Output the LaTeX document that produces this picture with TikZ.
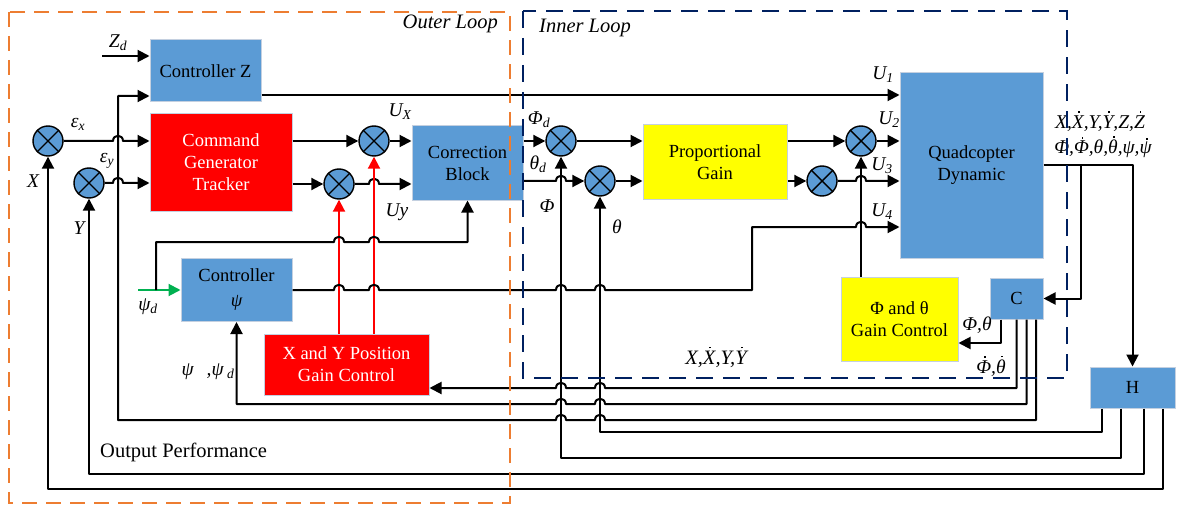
\documentclass[tikz,border=0pt]{standalone}
\usepackage{fontspec}
\setmainfont{Liberation Serif}
\usetikzlibrary{arrows.meta}
\definecolor{qblue}{RGB}{91,155,213}
\definecolor{qred}{RGB}{255,0,0}
\definecolor{qyellow}{RGB}{255,255,0}
\definecolor{boxedge}{RGB}{196,208,224}
\definecolor{qorange}{RGB}{237,125,49}
\definecolor{qnavy}{RGB}{0,32,96}
\definecolor{qgreen}{RGB}{0,176,80}
\newcommand\fs{\fontsize{18.5}{22}\selectfont}
\newcommand\fl{\fontsize{19.5}{23}\selectfont}
\newcommand\fb{\fontsize{20.5}{24}\selectfont}
\newcommand\hopR[2]{-- (#1-5,#2) .. controls (#1-5,#2-7) and (#1+5,#2-7) .. (#1+5,#2)}
\newcommand\hopL[2]{-- (#1+5,#2) .. controls (#1+5,#2-7) and (#1-5,#2-7) .. (#1-5,#2)}
\newcommand\dd[1]{\leavevmode\setbox0\hbox{#1}%
  \rlap{\hbox to\wd0{\hss\hskip2pt\raisebox{\dimexpr\ht0+2.5pt\relax}{\rule{1.8pt}{1.8pt}}\hss}}\box0}
\newcommand\summ[2]{\node[sumc] (#1) at (#2) {};
  \draw[line width=1.4pt] (#1.north west) -- (#1.south east) (#1.north east) -- (#1.south west);}
\tikzset{
  box/.style={draw=boxedge, line width=1pt, align=center, inner sep=2pt, font=\fs},
  bluebox/.style={box, fill=qblue},
  redbox/.style={box, fill=qred, text=white},
  yelbox/.style={box, fill=qyellow},
  sumc/.style={circle, draw=black, line width=1.4pt, fill=qblue, minimum size=30pt, inner sep=0pt},
  lab/.style={font=\fl\itshape, inner sep=0pt},
  wire/.style={line width=2pt, line join=round, -{Triangle[length=12pt,width=12pt]}},
  frame/.style={line width=2.2pt}
}
\begin{document}
\begin{tikzpicture}[x=1pt,y=-1pt]
\useasboundingbox (0,0) rectangle (1177,505);

% blocks
\node[bluebox, minimum width=111pt, minimum height=62pt] (cz) at (205.5,71) {Controller Z};
\node[redbox, minimum width=142pt, minimum height=97pt] (cg) at (221,162.5) {Command\\Generator\\Tracker};
\node[bluebox, minimum width=111pt, minimum height=74pt] (cb) at (467.5,163) {Correction\\Block};
\node[yelbox, minimum width=144pt, minimum height=74pt] (pg) at (715,162) {Proportional\\Gain};
\node[bluebox, minimum width=143pt, minimum height=185pt] (qd) at (971.5,165.5) {Quadcopter\\Dynamic};
\node[bluebox, minimum width=111pt, minimum height=63pt] (cpsi) at (236.5,290) {Controller\\[3pt]{\itshape ψ}};
\node[redbox, minimum width=165pt, minimum height=61pt] (xy) at (346.5,364.5) {X and Y Position\\Gain Control};
\node[yelbox, minimum width=117pt, minimum height=84pt] (pt) at (899.5,319) {Φ and θ\\Gain Control};
\node[bluebox, minimum width=53pt, minimum height=41pt] (C) at (1016.5,298.5) {C};
\node[bluebox, minimum width=85pt, minimum height=41pt] (H) at (1132.5,387.5) {H};

% summing junctions
\summ{sx}{48,141}
\summ{sy}{89,183}
\summ{sux}{374,141}
\summ{suy}{339,184}
\summ{sphi}{561,141}
\summ{sth}{600,181}
\summ{su2}{861,141}
\summ{su3}{822,181}

% inputs
\coordinate (zd) at (102,56);
\draw[wire] (zd) -- (zd -| cz.west);
\coordinate (psid) at (138,290);
\draw[wire, qgreen] (psid) -- (psid -| cpsi.west);

% outer loop forward path
\draw[wire] ([yshift=-24pt]cz.east) -- (qd.west |- 0,95);
\draw[wire] (sx.east) \hopR{118}{141} -- (cg.west |- sx.east);
\draw[wire] (sy.east) \hopR{118}{183} -- (cg.west |- sy.east);
\draw[wire] (cg.east |- sux.west) -- (sux.west);
\draw[wire] (cg.east |- suy.west) -- (suy.west);
\draw[wire] (sux.east) -- (cb.west |- sux.east);
\draw[wire] (suy.east) \hopR{374}{184} -- (cb.west |- suy.east);
\draw[wire, qred] (xy.north -| suy) -- (suy.south);
\draw[wire, qred] (xy.north -| sux) -- (sux.south);
\draw[wire] (156,290) -- (156,242) \hopR{339}{242} \hopR{374}{242} -- (cb.south |- 0,242) -- (cb.south);
\draw[wire] (cpsi.east) \hopR{339}{290} \hopR{374}{290} \hopR{561}{290} \hopR{600}{290}
  -- (752,290) -- (752,227) \hopR{861}{227} -- (qd.west |- 0,227);

% inner loop forward path
\draw[wire] (cb.east |- sphi.west) -- (sphi.west);
\draw[wire] (cb.east |- sth.west) \hopR{561}{181} -- (sth.west);
\draw[wire] (sphi.east) -- (pg.west |- sphi.east);
\draw[wire] (sth.east) -- (pg.west |- sth.east);
\draw[wire] (pg.east |- su2.west) -- (su2.west);
\draw[wire] (pg.east |- su3.west) -- (su3.west);
\draw[wire] (su2.east) -- (qd.west |- su2.east);
\draw[wire] (su3.east) \hopR{861}{181} -- (qd.west |- su3.east);
\draw[wire] (pt.north -| su2) -- (su2.south);

% plant outputs
\draw[wire] (qd.east) -| (H.north);
\draw[wire] (1081,165.5) |- (C.east);
\draw[wire] ([xshift=-15.5pt]C.south) |- (pt.east |- 0,343);

% feedback from C
\draw[wire] (C.south) -- (1016.5,388) \hopL{600}{388} \hopL{561}{388} -- (xy.east |- 0,388);
\draw[wire] ([xshift=10pt]C.south) -- (1026.5,404) \hopL{600}{404} \hopL{561}{404} -- (cpsi.south |- 0,404) -- (cpsi.south);
\draw[wire] ([xshift=19.5pt]C.south) -- (1036,420) \hopL{600}{420} \hopL{561}{420} -- (118,420) -- (118,96) -- (cz.west |- 0,96);

% feedback from H
\draw[wire] ([xshift=-30.5pt]H.south) -- (1102,432) -- (600,432) -- (sth.south);
\draw[wire] ([xshift=-11.5pt]H.south) -- (1121,458) -- (561,458) -- (sphi.south);
\draw[wire] ([xshift=11.5pt]H.south) -- (1144,474) -- (89,474) -- (sy.south);
\draw[wire] ([xshift=30.5pt]H.south) -- (1163,489) -- (48,489) -- (sx.south);

% labels
\node[lab] (lzd) at (118,43) {Z\textsubscript{d}};
\node[lab] (lex) at (78,124) {ε\textsubscript{x}};
\node[lab] (ley) at (107,161) {ε\textsubscript{y}};
\node[lab] (lx) at (33,181) {X};
\node[lab] (ly) at (79,228) {Y};
\node[lab] (lux) at (400,112) {U\textsubscript{X}};
\node[lab] (luy) at (397,212) {Uy};
\node[lab] (lu1) at (883,75) {U\textsubscript{1}};
\node[lab] (lu2) at (889,120) {U\textsubscript{2}};
\node[lab] (lu3) at (882,166) {U\textsubscript{3}};
\node[lab] (lu4) at (882,212) {U\textsubscript{4}};
\node[lab] (lphid) at (539,120) {Φ\textsubscript{d}};
\node[lab] (lthd) at (538,164) {θ\textsubscript{d}};
\node[lab] (lphi) at (547,206) {Φ};
\node[lab] (lth) at (617,227) {θ};
\node[lab] (lpsid) at (148,307) {ψ\textsubscript{d}};
\node[lab] (lpsi) at (208,372) {ψ\enspace\thinspace,ψ\textsubscript{ d}};
\node[lab, font=\fb\itshape] (lxy) at (716,357) {X,\dd{X},Y,\dd{Y}};
\node[lab] (lpt) at (977,325) {Φ,θ};
\node[lab] (lptd) at (991,366) {\dd{Φ},\dd{θ}};
\node[lab] (lo1) at (1100,121) {X,\dd{X},Y,\dd{Y},Z,\dd{Z}};
\node[lab] (lo2) at (1103,147) {Φ,\dd{Φ},θ,\dd{θ},ψ,\dd{ψ}};
\node[lab, font=\fb\itshape, anchor=east] (lol) at (498,24) {Outer Loop};
\node[lab, font=\fb\itshape, anchor=west] (lil) at (539,28) {Inner Loop};
\node[font=\fb, anchor=west, inner sep=0pt] (lop) at (100,452) {Output Performance};

% loop frames
\draw[frame, qorange, dash pattern=on 15pt off 9pt] (9,12) rectangle (510,503);
\draw[frame, qnavy, dash pattern=on 17pt off 10pt] (523,11) rectangle (1067,378);
\end{tikzpicture}
\end{document}
